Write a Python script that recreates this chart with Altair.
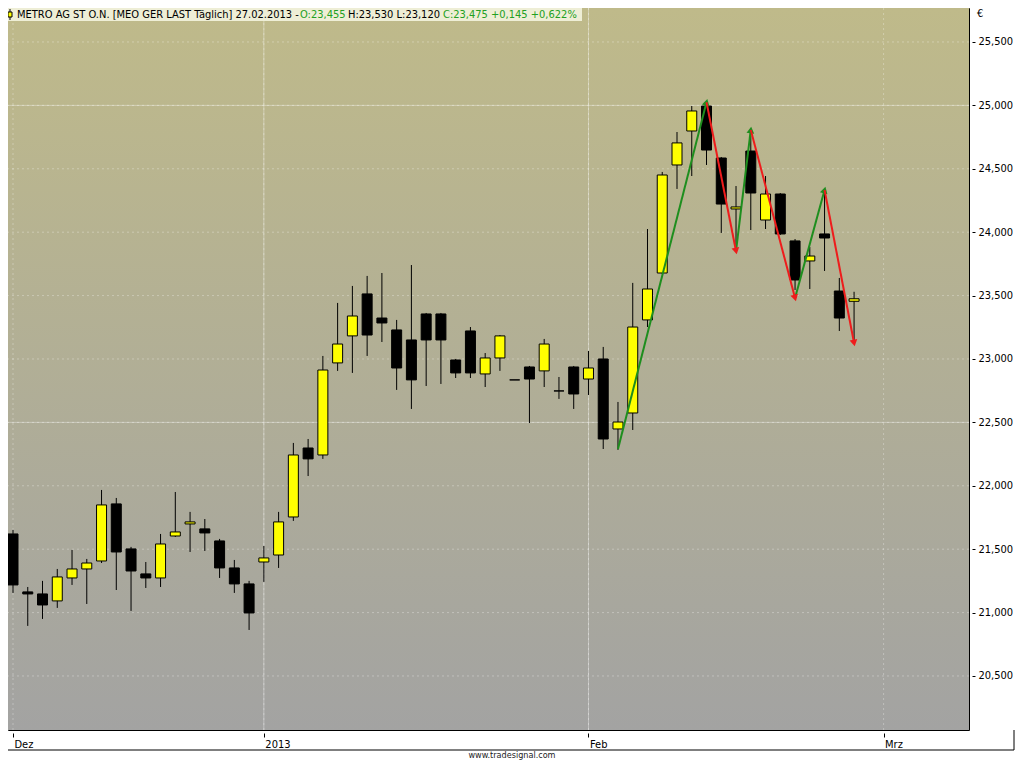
import math
import altair as alt
import pandas as pd

# daily candles, 03.12.2012 .. 27.02.2013 (trading-day index)
day = list(range(58))
open_ = [21.620, 21.163, 21.147, 21.092, 21.273, 21.344, 21.407, 21.857, 21.502, 21.305,
         21.273, 21.604, 21.699, 21.660, 21.565, 21.352, 21.226, 21.399, 21.454, 21.754,
         22.298, 22.243, 22.969, 23.182, 23.513, 23.323, 23.229, 23.150, 23.355, 23.355,
         22.992, 23.221, 22.882, 23.008, 22.835, 22.937, 22.906, 22.748, 22.937, 22.842,
         23.000, 22.448, 22.574, 23.308, 23.678, 24.530, 24.798, 24.995, 24.585, 24.183,
         24.640, 24.096, 24.301, 23.931, 23.773, 23.986, 23.536, 23.455]
high = [21.652, 21.202, 21.250, 21.344, 21.494, 21.423, 21.967, 21.904, 21.518, 21.399,
        21.620, 21.951, 21.794, 21.738, 21.581, 21.415, 21.250, 21.525, 21.794, 22.338,
        22.369, 23.024, 23.442, 23.576, 23.655, 23.678, 23.308, 23.741, 23.363, 23.363,
        23.000, 23.252, 23.047, 23.189, 22.835, 22.945, 23.158, 22.858, 22.945, 23.063,
        23.095, 22.661, 23.600, 24.025, 24.475, 24.790, 24.995, 25.027, 24.593, 24.364,
        24.759, 24.443, 24.309, 23.946, 23.883, 24.341, 23.639, 23.530]
low = [21.155, 20.895, 20.950, 21.037, 21.218, 21.068, 21.391, 21.178, 21.013, 21.194,
       21.202, 21.596, 21.478, 21.486, 21.273, 21.155, 20.863, 21.242, 21.352, 21.723,
       22.077, 22.212, 22.906, 22.890, 23.024, 23.134, 22.756, 22.606, 22.787, 22.803,
       22.850, 22.850, 22.779, 22.906, 22.835, 22.495, 22.779, 22.685, 22.606, 22.716,
       22.290, 22.283, 22.440, 23.252, 23.670, 24.341, 24.443, 24.530, 23.994, 23.883,
       24.017, 24.025, 23.978, 23.544, 23.552, 23.694, 23.221, 23.120]
close = [21.218, 21.147, 21.060, 21.281, 21.344, 21.391, 21.849, 21.478, 21.328, 21.273,
         21.541, 21.636, 21.715, 21.628, 21.352, 21.226, 20.997, 21.431, 21.715, 22.243,
         22.212, 22.913, 23.118, 23.339, 23.189, 23.284, 22.929, 22.835, 23.150, 23.150,
         22.890, 22.890, 23.008, 23.182, 22.835, 22.842, 23.118, 22.748, 22.724, 22.929,
         22.369, 22.503, 23.252, 23.552, 24.451, 24.704, 24.956, 24.648, 24.222, 24.199,
         24.309, 24.301, 23.986, 23.623, 23.812, 23.954, 23.323, 23.475]

# zigzag swing points
swing_day = [41, 47, 49, 50, 53, 55, 57]
swing_price = [22.290, 25.025, 23.852, 24.806, 23.481, 24.333, 23.126]

price_ticks = [20.5, 21.0, 21.5, 22.0, 22.5, 23.0, 23.5, 24.0, 24.5, 25.0, 25.5]
solid_levels = [22.5, 25.0]
tick_pos = [0, 17, 39, 59]
tick_text = ["Dez", "2013", "Feb", "Mrz"]
solid_days = [17, 39]

W, H = 961, 722
PX_PER_EUR = 126.8
Y_TOP = 25.768
X_DOM = [0, 64.45]
Y_DOM = [Y_TOP - H / PX_PER_EUR, Y_TOP]
FONT = "DejaVu Sans Condensed, DejaVu Sans"

xs = alt.Scale(domain=X_DOM, nice=False, zero=False)
ys = alt.Scale(domain=Y_DOM, nice=False, zero=False)

candles = pd.DataFrame({"day": day, "open": open_, "high": high, "low": low, "close": close})
candles["dir"] = ["up" if c >= o else "down" for o, c in zip(open_, close)]

px_x = W / (X_DOM[1] - X_DOM[0])
seg = []
for i in range(len(swing_day) - 1):
    d0, d1 = swing_day[i], swing_day[i + 1]
    p0, p1 = swing_price[i], swing_price[i + 1]
    ang = math.degrees(math.atan2((d1 - d0) * px_x, (p1 - p0) * PX_PER_EUR)) % 360
    seg.append({"x": d0, "y": p0, "x2": d1, "y2": p1,
                "kind": "up" if p1 > p0 else "down", "angle": ang})
segs = pd.DataFrame(seg)

label_expr = ""
for p, t in zip(tick_pos, tick_text):
    label_expr += f"datum.value == {p} ? '{t}' : "
label_expr += "''"

ax_x = alt.Axis(orient="bottom", values=tick_pos, labelExpr=label_expr,
                grid=False, domain=False, tickColor="black", tickSize=4,
                offset=3, labelAlign="left", labelBaseline="top", labelOffset=1,
                labelPadding=1, labelFont=FONT, labelFontSize=11,
                labelColor="black", title=None)
ax_y = alt.Axis(orient="right", values=price_ticks,
                labelExpr="replace(format(datum.value, '.3f'), '.', ',')",
                grid=False, domain=False, tickColor="black", tickSize=3,
                offset=3, labelPadding=3, labelFont=FONT, labelFontSize=11,
                labelColor="black", title=None)

background = alt.Chart(pd.DataFrame({"a": [0]})).mark_rect(
    fill=alt.Gradient(gradient="linear", x1=0, x2=0, y1=0, y2=1,
                      stops=[alt.GradientStop(offset=0, color="#BFBA8A"),
                             alt.GradientStop(offset=1, color="#A3A3A2")])
).encode(x=alt.value(0), x2=alt.value(W), y=alt.value(0), y2=alt.value(H))

hgrid = alt.Chart(pd.DataFrame({"lvl": price_ticks})).mark_rule(
    color="white", opacity=0.3, strokeDash=[2, 3]
).encode(y=alt.Y("lvl:Q", scale=ys, axis=ax_y))
hgrid_solid = alt.Chart(pd.DataFrame({"lvl": solid_levels})).mark_rule(
    color="white", opacity=0.35
).encode(y=alt.Y("lvl:Q", scale=ys, axis=ax_y))
vgrid = alt.Chart(pd.DataFrame({"d": tick_pos})).mark_rule(
    color="white", opacity=0.3, strokeDash=[2, 3]
).encode(x=alt.X("d:Q", scale=xs, axis=ax_x))
vgrid_solid = alt.Chart(pd.DataFrame({"d": solid_days})).mark_rule(
    color="white", opacity=0.35
).encode(x=alt.X("d:Q", scale=xs, axis=ax_x))

wicks = alt.Chart(candles).mark_rule(color="black", strokeWidth=1, clip=True).encode(
    x=alt.X("day:Q", scale=xs, axis=ax_x),
    y=alt.Y("low:Q", scale=ys, axis=ax_y),
    y2="high:Q",
)

bodies = alt.Chart(candles).mark_bar(size=10, stroke="black", strokeWidth=1, clip=True).encode(
    x=alt.X("day:Q", scale=xs, axis=ax_x),
    y=alt.Y("open:Q", scale=ys, axis=ax_y),
    y2="close:Q",
    color=alt.Color("dir:N", scale=alt.Scale(domain=["up", "down"], range=["#FFFF00", "#000000"]),
                    legend=None),
)

zz_layers = []
for kind, col in [("up", "#1E8E1E"), ("down", "#EE1C1C")]:
    part = segs[segs["kind"] == kind]
    zz_layers.append(alt.Chart(part).mark_rule(strokeWidth=2, color=col).encode(
        x=alt.X("x:Q", scale=xs, axis=ax_x),
        y=alt.Y("y:Q", scale=ys, axis=ax_y),
        x2="x2:Q",
        y2="y2:Q",
    ))
    zz_layers.append(alt.Chart(part).mark_point(
        shape="triangle-up", filled=True, size=60, opacity=1, color=col
    ).encode(
        x=alt.X("x2:Q", scale=xs, axis=ax_x),
        y=alt.Y("y2:Q", scale=ys, axis=ax_y),
        angle=alt.Angle("angle:Q", scale=None),
    ))

# header bar
title_box = alt.Chart(pd.DataFrame({"a": [0]})).mark_rect(color="#EEEED6").encode(
    x=alt.value(0), x2=alt.value(574), y=alt.value(0), y2=alt.value(13))
icon_wick = alt.Chart(pd.DataFrame({"a": [0]})).mark_rule(color="black").encode(
    x=alt.value(2), y=alt.value(1), y2=alt.value(12))
icon_body = alt.Chart(pd.DataFrame({"a": [0]})).mark_rect(color="#FFFF00", stroke="black").encode(
    x=alt.value(0), x2=alt.value(4), y=alt.value(4), y2=alt.value(9))

header_parts = [
    ("METRO AG ST O.N.  [MEO GER LAST Täglich] 27.02.2013 -", 9, "black"),
    ("O:23,455", 292, "#22A022"),
    ("H:23,530 L:23,120", 340, "black"),
    ("C:23,475 +0,145 +0,622%", 435, "#22A022"),
]
header = [
    alt.Chart(pd.DataFrame({"t": [t]})).mark_text(
        align="left", baseline="alphabetic", font=FONT, fontSize=11, color=c
    ).encode(x=alt.value(x0), y=alt.value(10), text="t:N")
    for t, x0, c in header_parts
]

euro = alt.Chart(pd.DataFrame({"t": ["€"]})).mark_text(
    align="left", baseline="top", font=FONT, fontSize=11, color="black"
).encode(x=alt.value(W + 8), y=alt.value(0), text="t:N")

axis_box_h = alt.Chart(pd.DataFrame({"a": [0]})).mark_rule(color="black").encode(
    x=alt.value(0), x2=alt.value(W + 45), y=alt.value(H + 20))
axis_box_v = alt.Chart(pd.DataFrame({"a": [0]})).mark_rule(color="black").encode(
    x=alt.value(W + 45), y=alt.value(H), y2=alt.value(H + 20))

footer = alt.Chart(pd.DataFrame({"t": ["www.tradesignal.com"]})).mark_text(
    align="center", baseline="alphabetic", font=FONT, fontSize=9, color="#222222"
).encode(x=alt.value(504), y=alt.value(H + 28), text="t:N")

chart = alt.layer(
    background, hgrid, hgrid_solid, vgrid, vgrid_solid, wicks, bodies, *zz_layers,
    title_box, icon_wick, icon_body, *header, euro, axis_box_h, axis_box_v, footer
).properties(
    width=W, height=H,
    autosize=alt.AutoSizeParams(type="none"),
    padding={"left": 0, "top": 0, "right": 47, "bottom": 30},
    background="white",
).configure_view(stroke="black", strokeWidth=1)

chart.save("out.html", embed_options={"renderer": "svg", "actions": False})
